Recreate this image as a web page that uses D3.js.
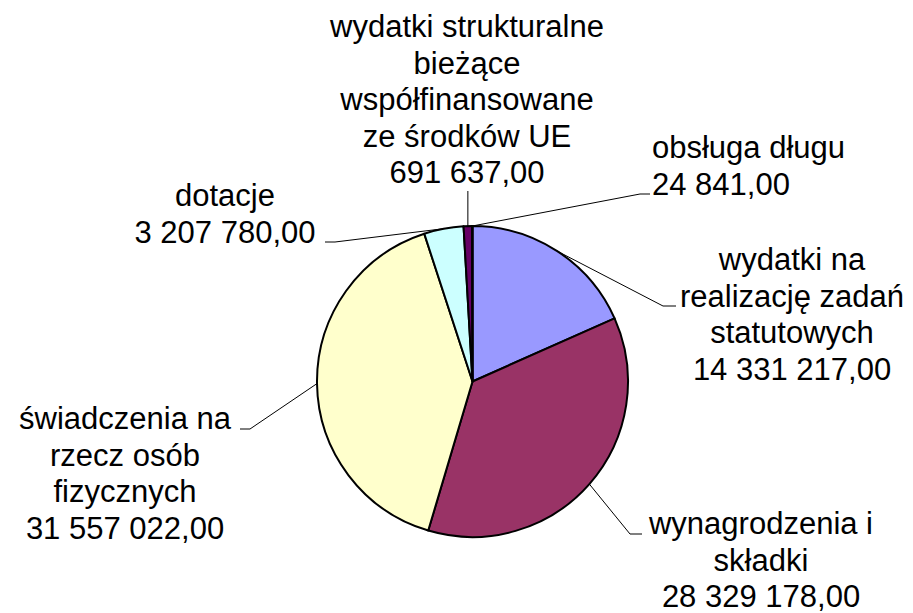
<!DOCTYPE html>
<html>
<head>
<meta charset="utf-8">
<script src="https://cdn.jsdelivr.net/npm/d3@7"></script>
<style>
  body { margin: 0; background: #fff; }
  svg { display: block; }
  text { font-family: "Liberation Sans", Arial, sans-serif; font-size: 31px; fill: #000; }
</style>
</head>
<body>
<svg id="chart"></svg>
<script>
// Chart data
const categories = [
  ['wydatki na', 'realizację zadań', 'statutowych'],
  ['wynagrodzenia i', 'składki'],
  ['świadczenia na', 'rzecz osób', 'fizycznych'],
  ['dotacje'],
  ['wydatki strukturalne', 'bieżące', 'współfinansowane', 'ze środków UE'],
  ['obsługa długu'],
];
const values = [14331217, 28329178, 31557022, 3207780, 691637, 24841];
const colors = ['#9999FF', '#993366', '#FFFFCC', '#CCFFFF', '#660066', '#FF8080'];

// Page dimensions
const WIDTH = 913;
const HEIGHT = 613;
const CENTER_X = 472.5;
const CENTER_Y = 381.5;
const RADIUS = 155.5;
const LINE_HEIGHT = 36.5;

// Label placement (first baseline, anchor, leader elbow and end)
const labelLayout = [
  { x: 792, y: 270, anchor: 'middle', elbow: [663, 306], end: [676, 306] },
  { x: 761, y: 534, anchor: 'middle', elbow: [630, 534], end: [642, 534] },
  { x: 125, y: 429, anchor: 'middle', elbow: [250, 429], end: [240, 429] },
  { x: 225, y: 206, anchor: 'middle', elbow: [335, 242], end: [325, 242] },
  { x: 467, y: 37, anchor: 'middle', elbow: null, end: null, up: 191 },
  { x: 652, y: 158, anchor: 'start', elbow: [640, 194], end: [650, 194] },
];

const plLocale = d3.formatLocale({ decimal: ',', thousands: ' ', grouping: [3], currency: ['', ''] });
const formatValue = plLocale.format(',.2f');

const svg = d3.select('#chart')
  .attr('width', WIDTH)
  .attr('height', HEIGHT);

const pie = d3.pie().sort(null).value(d => d)(values);
const arc = d3.arc().innerRadius(0).outerRadius(RADIUS);

const pieGroup = svg.append('g')
  .attr('transform', `translate(${CENTER_X}, ${CENTER_Y})`);

pieGroup.selectAll('path')
  .data(pie)
  .enter()
  .append('path')
  .attr('d', arc)
  .attr('fill', (d, i) => colors[i])
  .attr('stroke', '#000')
  .attr('stroke-width', 2)
  .attr('stroke-linejoin', 'round');

// point on the rim in the middle of a slice
const rimPoint = (d) => {
  const a = (d.startAngle + d.endAngle) / 2;
  return [CENTER_X + RADIUS * Math.sin(a), CENTER_Y - RADIUS * Math.cos(a)];
};

// Leader lines
const leaders = svg.append('g');
pie.forEach((d, i) => {
  const layout = labelLayout[i];
  const start = rimPoint(d);
  const points = layout.elbow
    ? [start, layout.elbow, layout.end]
    : [start, [start[0], layout.up]];
  leaders.append('path')
    .attr('d', d3.line()(points))
    .attr('fill', 'none')
    .attr('stroke', '#000')
    .attr('stroke-width', 1);
});

// Labels
const labels = svg.append('g');
pie.forEach((d, i) => {
  const layout = labelLayout[i];
  const lines = [...categories[i], formatValue(values[i])];
  const text = labels.append('text')
    .attr('text-anchor', layout.anchor);
  lines.forEach((line, j) => {
    text.append('tspan')
      .attr('x', layout.x)
      .attr('y', layout.y + j * LINE_HEIGHT)
      .text(line);
  });
});
</script>
</body>
</html>
